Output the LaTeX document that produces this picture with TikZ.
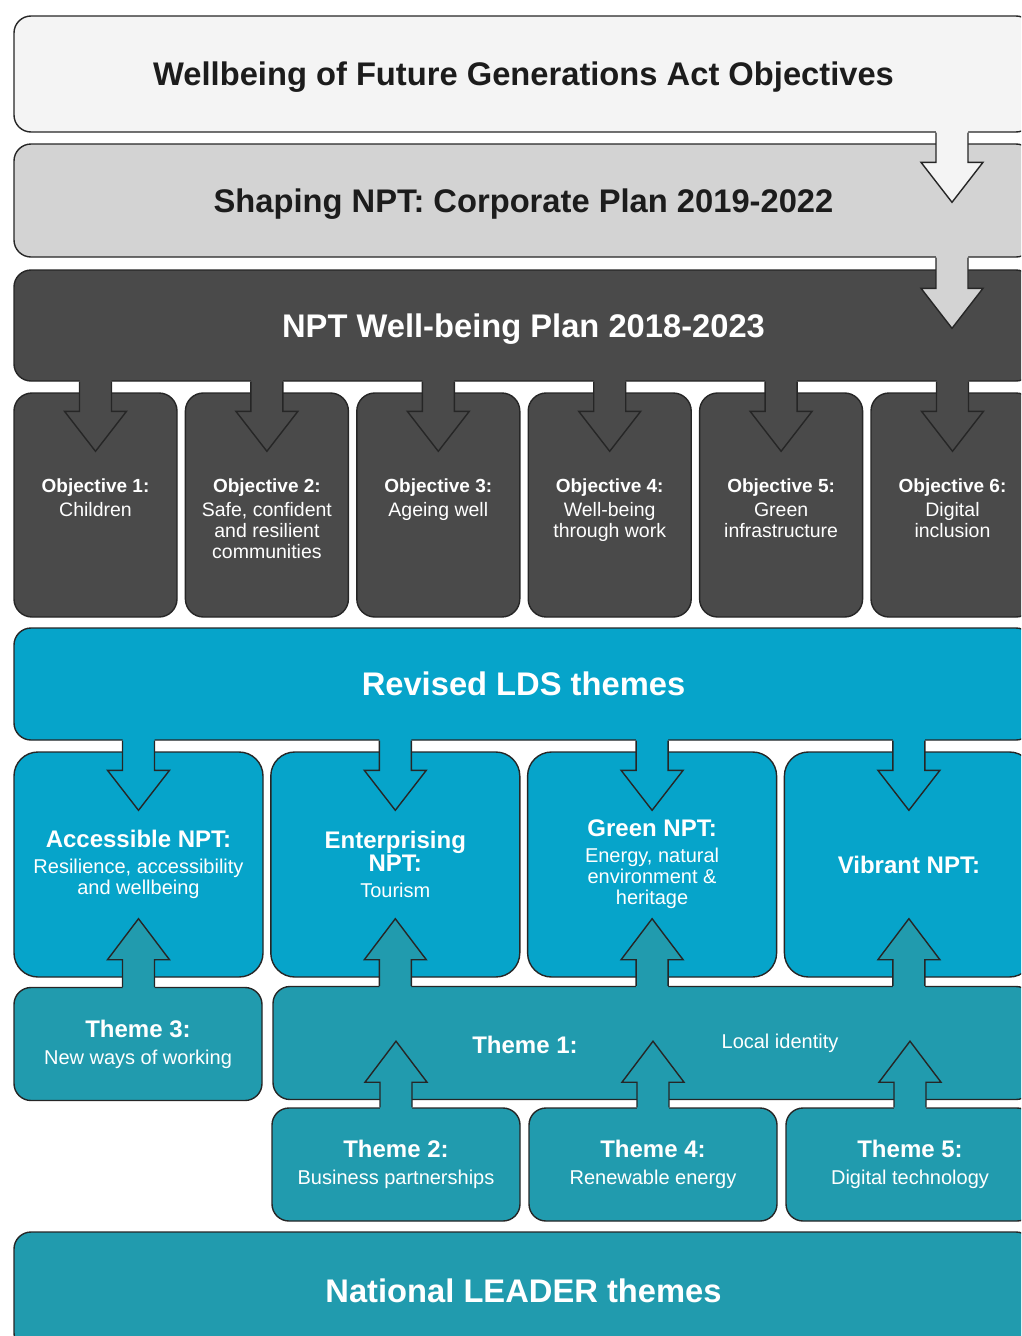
\documentclass[tikz,border=0pt]{standalone}
\usepackage{fontspec}
\setmainfont{Liberation Sans}
\usetikzlibrary{positioning,calc}

\definecolor{actwhite}{HTML}{F4F4F4}
\definecolor{corpgrey}{HTML}{D3D3D3}
\definecolor{plandark}{HTML}{4A4A4A}
\definecolor{ldsblue}{HTML}{06A4CA}
\definecolor{leaderteal}{HTML}{219BAE}
\definecolor{edgegrey}{HTML}{262626}
\definecolor{inkdark}{HTML}{1C1C1C}

\newcommand{\headfont}{\bfseries\fontsize{32.7}{36}\selectfont}
\newcommand{\objhead}{\bfseries\fontsize{19}{21}\selectfont}
\newcommand{\themehead}{\bfseries\fontsize{24}{26}\selectfont}

% block arrow pointing down: source, target, column, fill
\newcommand{\blockdown}[4]{%
  \coordinate (s) at (#1.south -| #3);
  \coordinate (t) at (#2.north -| #3);
  \fill[#4] ($(s)+(-16,-3)$) -- ($(t)+(-16,19)$) -- ($(t)+(-31,19)$) -- ($(t)+(0,59)$)
    -- ($(t)+(31,19)$) -- ($(t)+(16,19)$) -- ($(s)+(16,-3)$) -- cycle;
  \draw[arrowedge] ($(s)+(-16,0)$) -- ($(t)+(-16,19)$) -- ($(t)+(-31,19)$) -- ($(t)+(0,59)$)
    -- ($(t)+(31,19)$) -- ($(t)+(16,19)$) -- ($(s)+(16,0)$);
}
% block arrow pointing up: source, target, column, fill
\newcommand{\blockup}[4]{%
  \coordinate (s) at (#1.north -| #3);
  \coordinate (t) at (#2.south -| #3);
  \fill[#4] ($(s)+(-16,3)$) -- ($(t)+(-16,-18)$) -- ($(t)+(-31,-18)$) -- ($(t)+(0,-59)$)
    -- ($(t)+(31,-18)$) -- ($(t)+(16,-18)$) -- ($(s)+(16,3)$) -- cycle;
  \draw[arrowedge] ($(s)+(-16,0)$) -- ($(t)+(-16,-18)$) -- ($(t)+(-31,-18)$) -- ($(t)+(0,-59)$)
    -- ($(t)+(31,-18)$) -- ($(t)+(16,-18)$) -- ($(s)+(16,0)$);
}

\begin{document}
\begin{tikzpicture}[
  x=1pt, y=-1pt,
  arrowedge/.style={draw=edgegrey, line width=1.4pt},
  band/.style={
    draw=edgegrey, line width=1.4pt, rounded corners=17pt,
    minimum width=1019pt, inner sep=0pt, align=center, font=\headfont,
    text depth=0pt
  },
  objbox/.style={
    draw=edgegrey, line width=1.4pt, rounded corners=18pt, fill=plandark,
    minimum width=163pt, minimum height=224pt, inner sep=0pt
  },
  objtext/.style={
    text=white, align=center, inner sep=0pt,
    font=\fontsize{19.5}{21}\selectfont
  },
  ldsbox/.style={
    draw=edgegrey, line width=1.4pt, rounded corners=24pt, fill=ldsblue,
    minimum width=249pt, minimum height=225pt, inner sep=0pt,
    text=white, align=center, font=\fontsize{20}{21}\selectfont
  },
  leaderbox/.style={
    draw=edgegrey, line width=1.4pt, rounded corners=17pt, fill=leaderteal,
    minimum width=248pt, minimum height=113pt, inner sep=0pt,
    text=white, align=center, font=\fontsize{20}{21}\selectfont
  },
  themetext/.style={text=white, inner sep=0pt, font=\fontsize{20}{21}\selectfont}
]
\useasboundingbox (0,0) rectangle (1021,1336);
\clip (0,0) rectangle (1021,1336);

\coordinate (rail) at (952,0);

% top three plans
\node[band, fill=actwhite, text=inkdark, minimum height=116pt] (act) at (523.5,74) {Wellbeing of Future Generations Act Objectives};
\node[band, fill=corpgrey, text=inkdark, minimum height=113pt] (corp) at (523.5,200.5) {Shaping NPT: Corporate Plan 2019-2022};
\node[band, fill=plandark, text=white, minimum height=111pt] (plan) at (523.5,325.5) {NPT Well-being Plan 2018-2023};
\blockdown{act}{corp}{rail}{actwhite}
\blockdown{corp}{plan}{rail}{corpgrey}

% well-being objectives
\node[objbox] (obj1) at (95.5,505) {};
\node[objbox, right=7pt of obj1] (obj2) {};
\node[objbox, right=7pt of obj2] (obj3) {};
\node[objbox, right=7pt of obj3] (obj4) {};
\node[objbox, right=7pt of obj4] (obj5) {};
\node[objbox, right=7pt of obj5] (obj6) {};

\node[objtext, below=86pt of obj1.north] (obj1txt) {{\objhead Objective 1:}\\[3pt]Children};
\node[objtext, below=86pt of obj2.north] (obj2txt) {{\objhead Objective 2:}\\[3pt]Safe, confident\\and resilient\\communities};
\node[objtext, below=86pt of obj3.north] (obj3txt) {{\objhead Objective 3:}\\[3pt]Ageing well};
\node[objtext, below=86pt of obj4.north] (obj4txt) {{\objhead Objective 4:}\\[3pt]Well-being\\through work};
\node[objtext, below=86pt of obj5.north] (obj5txt) {{\objhead Objective 5:}\\[3pt]Green\\infrastructure};
\node[objtext, below=86pt of obj6.north] (obj6txt) {{\objhead Objective 6:}\\[3pt]Digital\\inclusion};

\blockdown{plan}{obj1}{obj1}{plandark}
\blockdown{plan}{obj2}{obj2}{plandark}
\blockdown{plan}{obj3}{obj3}{plandark}
\blockdown{plan}{obj4}{obj4}{plandark}
\blockdown{plan}{obj5}{obj5}{plandark}
\blockdown{plan}{obj6}{obj6}{plandark}

% LDS themes
\node[band, fill=ldsblue, text=white, minimum height=112pt] (lds) at (523.5,684) {Revised LDS themes};

\node[ldsbox] (access) at (138.5,864.5) {{\themehead Accessible NPT:}\\[5pt]Resilience, accessibility\\and wellbeing};
\node[ldsbox, right=6.4pt of access] (enterp) {{\themehead Enterprising}\\[1pt]{\themehead NPT:}\\[5pt]Tourism};
\node[ldsbox, right=6.4pt of enterp] (green) {{\themehead Green NPT:}\\[5pt]Energy, natural\\environment \&\\heritage};
\node[ldsbox, right=6.4pt of green] (vibrant) {{\themehead Vibrant NPT:}};

% national LEADER themes
\node[leaderbox] (theme3) at (138,1044) {{\themehead Theme 3:}\\[6pt]New ways of working};
\node[leaderbox, minimum width=760pt] (theme1) at (653,1043) {};
\node[themetext] (theme1name) at ([xshift=-128pt,yshift=-2pt]theme1.center) {\themehead Theme 1:};
\node[themetext] (theme1sub) at ([xshift=127pt]theme1.center) {Local identity};

\node[leaderbox] (theme2) at (396,1164.5) {{\themehead Theme 2:}\\[6pt]Business partnerships};
\node[leaderbox, right=7.6pt of theme2] (theme4) {{\themehead Theme 4:}\\[6pt]Renewable energy};
\node[leaderbox, right=7.6pt of theme4] (theme5) {{\themehead Theme 5:}\\[6pt]Digital technology};

\node[band, fill=leaderteal, text=white, minimum height=118pt] (leader) at (523.5,1291) {National LEADER themes};

\blockdown{lds}{access}{access}{ldsblue}
\blockdown{lds}{enterp}{enterp}{ldsblue}
\blockdown{lds}{green}{green}{ldsblue}
\blockdown{lds}{vibrant}{vibrant}{ldsblue}

\blockup{theme3}{access}{access}{leaderteal}
\blockup{theme1}{enterp}{enterp}{leaderteal}
\blockup{theme1}{green}{green}{leaderteal}
\blockup{theme1}{vibrant}{vibrant}{leaderteal}

\blockup{theme2}{theme1}{theme2}{leaderteal}
\blockup{theme4}{theme1}{theme4}{leaderteal}
\blockup{theme5}{theme1}{theme5}{leaderteal}
\end{tikzpicture}
\end{document}
